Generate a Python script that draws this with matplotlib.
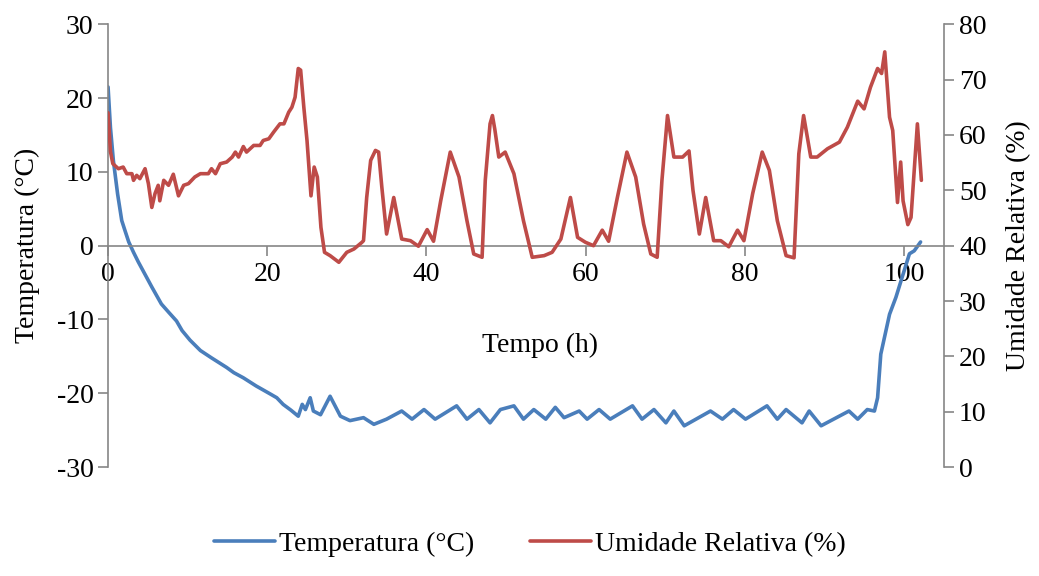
import numpy as np
import matplotlib
matplotlib.use("Agg")
import matplotlib.pyplot as plt

plt.rcParams["font.family"] = ["Liberation Serif", "DejaVu Serif"]
plt.rcParams["axes.unicode_minus"] = False

# temperature (degC) vs time (h)
t_temp = [0, 0.3, 0.67, 1.2, 1.72, 2.14, 2.6, 3.2, 3.8, 4.4, 5.5, 6.7, 7.6, 8.6, 9.3,
          10.3, 11.6, 13.0, 14.9, 15.8, 17.0, 18.6, 20.4, 21.2, 22.0, 23.0, 23.9, 24.4,
          24.8, 25.4, 25.8, 26.7, 27.9, 29.2, 30.4, 32.1, 33.4, 35.0, 36.9, 38.2, 39.7,
          41.1, 43.8, 45.1, 46.6, 48.0, 49.3, 51.0, 52.2, 53.5, 55.0, 56.2, 57.3, 59.2,
          60.2, 61.7, 63.1, 65.9, 67.1, 68.6, 70.1, 71.1, 72.4, 75.7, 77.2, 78.6, 80.1,
          82.8, 84.1, 85.2, 87.2, 88.1, 89.6, 93.1, 94.2, 95.4, 96.3, 96.7, 97.1, 98.2,
          99.0, 100.7, 101.3, 102.1]
temp = [21.5, 16.0, 11.5, 7.0, 3.4, 2.0, 0.5, -0.9, -2.2, -3.4, -5.6, -7.9, -9.0, -10.2,
        -11.5, -12.8, -14.2, -15.2, -16.5, -17.2, -17.9, -19.0, -20.1, -20.6, -21.5, -22.3,
        -23.1, -21.5, -22.2, -20.6, -22.4, -22.9, -20.4, -23.1, -23.7, -23.3, -24.2, -23.5,
        -22.4, -23.5, -22.2, -23.5, -21.7, -23.5, -22.2, -24.0, -22.2, -21.7, -23.5, -22.2,
        -23.5, -21.9, -23.3, -22.4, -23.5, -22.2, -23.5, -21.7, -23.5, -22.2, -24.0, -22.4,
        -24.4, -22.4, -23.5, -22.2, -23.5, -21.7, -23.5, -22.2, -24.0, -22.4, -24.4, -22.4,
        -23.5, -22.2, -22.4, -20.6, -14.7, -9.3, -7.0, -1.1, -0.7, 0.5]

# relative humidity (%) vs time (h)
t_rh = [0, 0.3, 0.6, 1.3, 1.9, 2.35, 3.0, 3.2, 3.6, 4.0, 4.65, 5.07, 5.5, 5.9, 6.3, 6.5,
        7.0, 7.6, 8.2, 8.85, 9.5, 10.1, 10.9, 11.6, 12.6, 13.0, 13.5, 14.1, 14.9, 15.6,
        16.0, 16.4, 17.0, 17.4, 18.3, 19.1, 19.5, 20.2, 20.8, 21.6, 22.1, 22.7, 23.1, 23.5,
        23.9, 24.2, 24.6, 25.0, 25.5, 25.9, 26.3, 26.75, 27.2, 27.9, 29.0, 30.0, 30.9, 31.9,
        32.1, 32.5, 33.0, 33.6, 34.0, 34.4, 35.0, 35.9, 36.3, 36.9, 38.0, 39.0, 40.1, 40.9,
        41.8, 43.0, 44.1, 45.1, 45.95, 47.0, 47.4, 48.0, 48.3, 48.6, 49.1, 49.9, 51.0, 52.2,
        53.3, 54.8, 55.8, 56.9, 58.1, 59.0, 60.0, 61.0, 62.1, 62.9, 64.0, 65.2, 66.3, 67.3,
        68.2, 69.0, 69.6, 70.3, 71.1, 72.2, 73.0, 73.5, 74.3, 75.1, 76.1, 77.0, 78.0, 79.1,
        79.9, 81.0, 82.2, 83.1, 84.1, 85.2, 86.2, 86.8, 87.4, 88.3, 89.1, 90.4, 91.9, 92.9,
        94.2, 95.0, 95.8, 96.7, 97.2, 97.6, 98.2, 98.6, 99.2, 99.6, 99.9, 100.5, 100.9,
        101.7, 102.2]
rh = [64.0, 57.0, 54.8, 53.9, 54.2, 53.0, 53.0, 51.8, 52.7, 52.1, 53.9, 51.2, 46.9, 49.4,
      50.9, 48.1, 51.8, 50.9, 52.9, 49.0, 50.9, 51.2, 52.4, 53.0, 53.0, 53.9, 53.0, 54.8,
      55.1, 56.0, 56.9, 56.0, 57.9, 56.9, 58.1, 58.1, 59.0, 59.3, 60.5, 62.0, 62.0, 64.1,
      65.0, 66.8, 72.0, 71.7, 65.0, 59.0, 49.0, 54.2, 52.4, 43.3, 38.8, 38.2, 37.0, 38.8,
      39.4, 40.6, 40.9, 48.7, 55.4, 57.2, 56.9, 50.6, 42.1, 48.7, 45.7, 41.2, 40.9, 39.9,
      42.9, 40.8, 48.1, 56.9, 52.4, 44.5, 38.5, 37.9, 51.8, 62.0, 63.5, 61.0, 56.0, 56.9,
      53.0, 44.5, 37.9, 38.2, 38.8, 41.2, 48.7, 41.5, 40.6, 40.0, 42.8, 40.8, 48.7, 56.9,
      52.4, 43.9, 38.5, 37.9, 51.8, 63.5, 56.0, 56.0, 57.1, 50.0, 42.1, 48.7, 40.9, 40.9,
      39.8, 42.8, 40.9, 49.4, 56.9, 53.6, 44.5, 38.2, 37.8, 56.6, 63.5, 56.0, 56.0, 57.5,
      58.7, 61.4, 66.1, 64.7, 68.6, 72.0, 71.1, 75.0, 63.2, 60.8, 47.8, 55.1, 48.1, 43.8,
      45.1, 62.0, 51.8]

BLUE = "#4A7EBB"
RED = "#BE4B48"
GREY = "#868686"
FS = 20

fig = plt.figure(figsize=(10.39, 5.76), dpi=100)
ax = fig.add_axes([0.104, 0.189, 0.805, 0.769])
ax2 = ax.twinx()

l1, = ax.plot(t_temp, temp, color=BLUE, lw=2.6, solid_joinstyle="round",
              solid_capstyle="round", label="Temperatura (°C)")
l2, = ax2.plot(t_rh, rh, color=RED, lw=2.6, solid_joinstyle="round",
               solid_capstyle="round", label="Umidade Relativa (%)")

ax.set_xlim(0, 105.1)
ax.set_ylim(-30, 30)
ax2.set_ylim(0, 80)
ax.set_xticks([0, 20, 40, 60, 80, 100])
ax.set_yticks(range(-30, 31, 10))
ax2.set_yticks(range(0, 81, 10))

for a in (ax, ax2):
    a.spines["top"].set_visible(False)
    for s in a.spines.values():
        s.set_color(GREY)
        s.set_linewidth(1.2)
ax.spines["right"].set_visible(False)
ax2.spines["left"].set_visible(False)
ax2.spines["bottom"].set_visible(False)
ax.spines["bottom"].set_position(("data", 0))

ax.tick_params(axis="both", colors=GREY, labelcolor="black", labelsize=FS,
               length=7, width=1.2, direction="out")
ax.tick_params(axis="x", pad=5)
ax2.tick_params(axis="y", colors=GREY, labelcolor="black", labelsize=FS,
                length=7, width=1.2, direction="out")

ax.set_ylabel("Temperatura (°C)", fontsize=FS, labelpad=12)
ax2.set_ylabel("Umidade Relativa (%)", fontsize=FS, labelpad=14)
ax.text(0.517, 0.275, "Tempo (h)", transform=ax.transAxes, ha="center", va="center",
        fontsize=FS)

fig.legend(handles=[l1, l2], loc="lower center", ncol=2, frameon=False, fontsize=FS,
           bbox_to_anchor=(0.51, -0.01), handlelength=2.2, handletextpad=0.15,
           columnspacing=2.0)

fig.savefig("out.png", dpi=100)
